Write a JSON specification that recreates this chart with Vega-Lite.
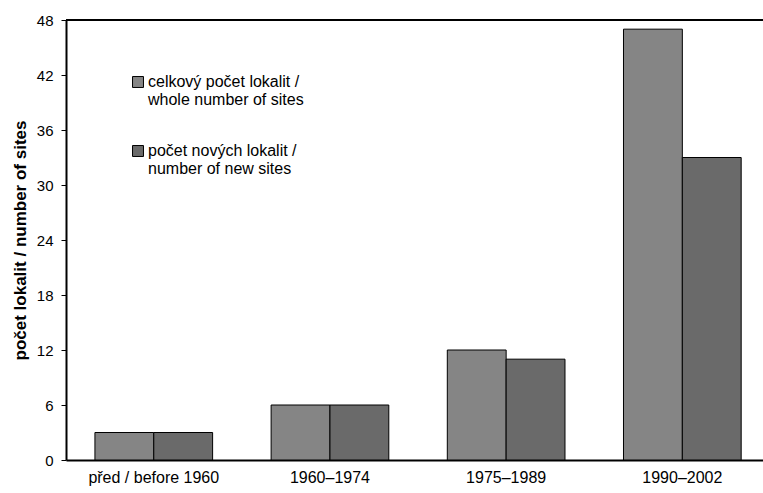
{
  "$schema": "https://vega.github.io/schema/vega-lite/v6.json",
  "autosize": {"type": "none"},
  "padding": {"left": 66, "top": 20, "right": 0, "bottom": 33},
  "width": 697,
  "height": 440,
  "background": "white",
  "config": {
    "view": {"stroke": null},
    "font": "Liberation Sans",
    "axis": {"labelColor": "black", "titleColor": "black", "domainColor": "black", "tickColor": "black", "grid": false}
  },
  "data": {
    "values": [
      {"period": "před / before 1960", "series": "celkový počet lokalit /|whole number of sites", "value": 3},
      {"period": "před / before 1960", "series": "počet nových lokalit /|number of new sites", "value": 3},
      {"period": "1960–1974", "series": "celkový počet lokalit /|whole number of sites", "value": 6},
      {"period": "1960–1974", "series": "počet nových lokalit /|number of new sites", "value": 6},
      {"period": "1975–1989", "series": "celkový počet lokalit /|whole number of sites", "value": 12},
      {"period": "1975–1989", "series": "počet nových lokalit /|number of new sites", "value": 11},
      {"period": "1990–2002", "series": "celkový počet lokalit /|whole number of sites", "value": 47},
      {"period": "1990–2002", "series": "počet nových lokalit /|number of new sites", "value": 33}
    ]
  },
  "layer": [
    {
      "mark": {"type": "bar", "stroke": "black", "strokeWidth": 1},
      "encoding": {
        "x": {
          "field": "period", "type": "nominal", "sort": null,
          "scale": {"paddingInner": 0.332, "paddingOuter": 0.144, "align": 0.57},
          "axis": {"title": null, "labelAngle": 0, "ticks": false, "labelFontSize": 16, "labelPadding": 9, "domainWidth": 2}
        },
        "xOffset": {"field": "series", "type": "nominal", "sort": null},
        "y": {
          "field": "value", "type": "quantitative",
          "scale": {"domain": [0, 48], "nice": false},
          "axis": {
            "title": "počet lokalit / number of sites",
            "titleFontSize": 17, "titleFontWeight": "bold", "titlePadding": 7,
            "values": [0, 6, 12, 18, 24, 30, 36, 42, 48],
            "labelFontSize": 15, "labelPadding": 8, "tickSize": 5, "tickWidth": 1, "domainWidth": 2
          }
        },
        "fill": {
          "field": "series", "type": "nominal", "sort": null,
          "scale": {"range": ["#858585", "#6a6a6a"]},
          "legend": {
            "title": null, "orient": "none", "legendX": 64, "legendY": 54,
            "symbolType": "square", "symbolSize": 120, "symbolStrokeColor": "black", "symbolStrokeWidth": 1,
            "labelFontSize": 16, "labelLimit": 0, "labelOffset": 2, "rowPadding": 35,
            "labelExpr": "split(datum.label, '|')"
          }
        }
      }
    },
    {
      "mark": {"type": "rule", "color": "black", "strokeWidth": 2},
      "encoding": {"y": {"datum": 48}}
    }
  ]
}
